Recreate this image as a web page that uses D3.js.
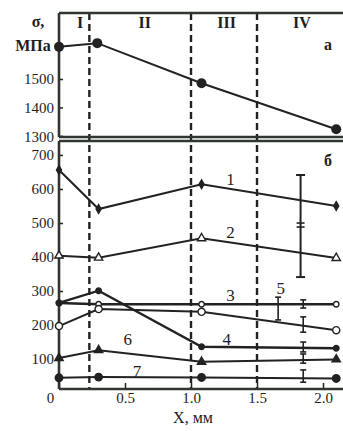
<!DOCTYPE html>
<html><head><meta charset="utf-8">
<script src="https://cdn.jsdelivr.net/npm/d3@7"></script>
<style>
body{margin:0;background:#fff}
svg{display:block}
text{font-family:"Liberation Serif","Times New Roman",serif;fill:#1e1e1e}
</style>
</head><body>
<svg id="c" width="343" height="431"></svg>
<script>
// ---- data ----
const topX = [0, 0.29, 1.08, 2.1];
const topVals = [1613, 1626, 1485, 1323];
const botX = [0, 0.3, 1.08, 2.1];
const series1 = [656, 541, 614, 550];
const series2 = [404, 398, 455, 397];
const series3 = [265, 261, 261, 261];
const series4 = [265, 301, 136, 132];
const series5 = [197, 247, 239, 185];
const series6 = [103, 126, 92, 99];
const series7 = [45, 47, 46, 43];
const seriesNames = ["1", "2", "3", "4", "5", "6", "7"];
const labelX = [1.30, 1.30, 1.30, 1.27, 1.68, 0.52, 0.59];
const labelY = [622, 467, 281, 152, 302, 152, 60];
const errX = [1.85, 1.66, 1.85, 1.85, 1.85, 1.85];
const errLow = [250, 215, 179, 121, 88, 32];
const errHigh = [274, 282, 224, 150, 115, 68];
const bigErrX = [1.83];
const bigErrLow = [341];
const bigErrHigh = [641];
const bigErrMid = [494];
const zoneBounds = [0.23, 1.0, 1.5];
const zoneNames = ["I", "II", "III", "IV"];
const zoneLabelX = [0.16, 0.65, 1.27, 1.84];
const xTicks = [0, 0.5, 1.0, 1.5, 2.0];
const topTicks = [1300, 1400, 1500];
const botTicks = [100, 200, 300, 400, 500, 600, 700];

// ---- layout ----
const svg = d3.select("#c");
const ink = "#222";
const frame = "#2f362f";
const L = 59, R = 343, T1 = 13, B1 = 137, T2 = 141, B2 = 389;
const x = d3.scaleLinear().domain([0, 2.14]).range([L, 341.5]);
const yTop = d3.scaleLinear().domain([1296, 1732]).range([B1, T1]);
const yBot = d3.scaleLinear().domain([12, 741]).range([B2, T2]);

svg.append("rect").attr("width", 343).attr("height", 431).attr("fill", "#fff");

// dashed zone boundaries
svg.selectAll("line.zone").data(zoneBounds).join("line")
  .attr("x1", d => x(d)).attr("x2", d => x(d))
  .attr("y1", T1).attr("y2", B2)
  .attr("stroke", ink).attr("stroke-width", 2.4).attr("stroke-dasharray", "7,4");

// axes
const fs = 15;
const gTopAxis = svg.append("g").attr("transform", `translate(${L},0)`)
  .call(d3.axisLeft(yTop).tickValues(topTicks).tickSize(-4).tickPadding(5).tickFormat(d3.format("d")));
const gBotAxis = svg.append("g").attr("transform", `translate(${L},0)`)
  .call(d3.axisLeft(yBot).tickValues(botTicks).tickSize(-4).tickPadding(5).tickFormat(d3.format("d")));
const gX = svg.append("g").attr("transform", `translate(0,${B2})`)
  .call(d3.axisBottom(x).tickValues(xTicks).tickSize(-6).tickPadding(3)
    .tickFormat(d => d === 0 ? "0" : d3.format(".1f")(d)));
[gTopAxis, gBotAxis, gX].forEach(g => {
  g.attr("font-family", null).attr("font-size", null);
  g.select(".domain").remove();
  g.selectAll("line").attr("stroke", ink).attr("stroke-width", 1.5);
  g.selectAll("text").attr("font-size", fs).attr("fill", "#1e1e1e");
});
gTopAxis.selectAll(".tick").filter(d => d === 1300).select("text").attr("dy", "0.4em");
gX.selectAll(".tick").filter(d => d === 0).select("text").attr("dx", -9);

// frames
const frameLines = [
  [L, T1, R, T1], [L, B1, R, B1], [L, T1, L, B1],
  [L, T2, R, T2], [L, B2, R, B2], [L, T2, L, B2]
];
svg.selectAll("line.frame").data(frameLines).join("line")
  .attr("x1", d => d[0]).attr("y1", d => d[1]).attr("x2", d => d[2]).attr("y2", d => d[3])
  .attr("stroke", frame).attr("stroke-width", 2.6);

// top panel line
const topData = topX.map((d, i) => [d, topVals[i]]);
svg.append("path").datum(topData)
  .attr("d", d3.line().x(d => x(d[0])).y(d => yTop(d[1])))
  .attr("fill", "none").attr("stroke", ink).attr("stroke-width", 2);
svg.selectAll("circle.top").data(topData).join("circle")
  .attr("cx", d => x(d[0])).attr("cy", d => yTop(d[1])).attr("r", 5).attr("fill", ink);

// bottom panel lines
const allSeries = [series1, series2, series3, series4, series5, series6, series7];
const markers = [
  {type: d3.symbolDiamond, size: 22, fill: true},
  {type: d3.symbolTriangle, size: 30, fill: false},
  {type: d3.symbolCircle, size: 24, fill: false},
  {type: d3.symbolCircle, size: 24, fill: true},
  {type: d3.symbolCircle, size: 40, fill: false},
  {type: d3.symbolTriangle, size: 30, fill: true},
  {type: d3.symbolCircle, size: 44, fill: true}
];
const lineGen = d3.line().x(d => x(d[0])).y(d => yBot(d[1]));
allSeries.forEach((s, k) => {
  const pts = botX.map((d, i) => [d, s[i]]);
  svg.append("path").datum(pts).attr("d", lineGen)
    .attr("fill", "none").attr("stroke", ink).attr("stroke-width", k === 3 || k === 2 ? 2.4 : 2);
  svg.selectAll(null).data(pts).join("path")
    .attr("transform", d => `translate(${x(d[0])},${yBot(d[1])})`)
    .attr("d", d3.symbol().type(markers[k].type).size(markers[k].size))
    .attr("fill", markers[k].fill ? ink : "#fff").attr("stroke", ink).attr("stroke-width", 1.4);
});

// series labels
svg.selectAll("text.sl").data(seriesNames).join("text")
  .attr("x", (d, i) => x(labelX[i])).attr("y", (d, i) => yBot(labelY[i]))
  .attr("text-anchor", "middle").attr("dominant-baseline", "middle")
  .attr("font-size", 17).text(d => d);

// small error bars
const errG = svg.append("g").attr("stroke", ink).attr("stroke-width", 1.6);
errX.forEach((ex, i) => {
  const cx = x(ex);
  errG.append("line").attr("x1", cx).attr("x2", cx).attr("y1", yBot(errLow[i])).attr("y2", yBot(errHigh[i]));
  errG.append("line").attr("x1", cx - 3).attr("x2", cx + 3).attr("y1", yBot(errLow[i])).attr("y2", yBot(errLow[i]));
  errG.append("line").attr("x1", cx - 3).attr("x2", cx + 3).attr("y1", yBot(errHigh[i])).attr("y2", yBot(errHigh[i]));
});
// big error bar
bigErrX.forEach((ex, i) => {
  const cx = x(ex);
  errG.append("line").attr("x1", cx).attr("x2", cx).attr("y1", yBot(bigErrLow[i])).attr("y2", yBot(bigErrHigh[i])).attr("stroke-width", 2);
  [bigErrLow[i], bigErrHigh[i]].forEach(v => errG.append("line").attr("x1", cx - 4.5).attr("x2", cx + 4.5).attr("y1", yBot(v)).attr("y2", yBot(v)).attr("stroke-width", 2));
  errG.append("line").attr("x1", cx - 4).attr("x2", cx + 4).attr("y1", yBot(bigErrMid[i]) - 2).attr("y2", yBot(bigErrMid[i]) - 2);
  errG.append("line").attr("x1", cx - 4).attr("x2", cx + 4).attr("y1", yBot(bigErrMid[i]) + 2).attr("y2", yBot(bigErrMid[i]) + 2);
});

// zone labels
svg.selectAll("text.zl").data(zoneNames).join("text")
  .attr("x", (d, i) => x(zoneLabelX[i])).attr("y", 24)
  .attr("text-anchor", "middle").attr("dominant-baseline", "middle")
  .attr("font-size", 16).attr("font-weight", "bold").text(d => d);

// panel letters
svg.append("text").attr("x", 328).attr("y", 46).attr("text-anchor", "middle").attr("dominant-baseline", "middle")
  .attr("font-size", 16).attr("font-weight", "bold").text("а");
svg.append("text").attr("x", 328).attr("y", 162).attr("text-anchor", "middle").attr("dominant-baseline", "middle")
  .attr("font-size", 16).attr("font-weight", "bold").text("б");

// axis titles
svg.append("text").attr("x", 38).attr("y", 23).attr("text-anchor", "middle").attr("dominant-baseline", "middle")
  .attr("font-size", 16).attr("font-weight", "bold").text("σ,");
svg.append("text").attr("x", 33).attr("y", 47).attr("text-anchor", "middle").attr("dominant-baseline", "middle")
  .attr("font-size", 16).attr("font-weight", "bold").text("МПа");
svg.append("text").attr("x", 193).attr("y", 419).attr("text-anchor", "middle").attr("dominant-baseline", "middle")
  .attr("font-size", 16).text("X, мм");
</script>
</body></html>
